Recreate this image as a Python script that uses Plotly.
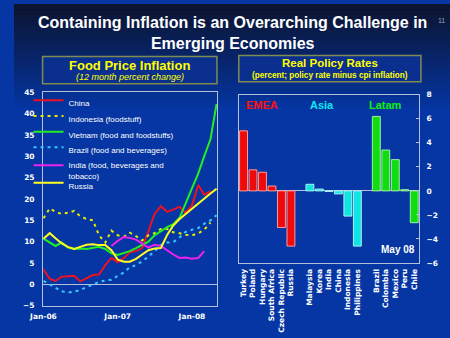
import pandas as pd
import plotly.graph_objects as go

# ---------------- data ----------------
months = pd.date_range("2006-01-01", periods=29, freq="MS")

china = [3.5, 1.3, 0.8, 1.8, 1.9, 2.0, 0.7, 1.4, 2.2, 2.3, 4.5, 6.2, 5.2, 6.2, 7.5,
         7.8, 8.5, 12.5, 16.5, 18.3, 17.0, 17.5, 18.2, 16.8, 18.5, 23.3, 21.0, 21.8, None]
indonesia = [15.5, 17.8, 17.0, 16.5, 16.8, 17.2, 16.0, 15.3, 15.0, 11.5, 9.8, 12.6, 11.5, 11.2, 12.1,
             11.3, 10.3, 11.5, 12.0, 13.0, 13.0, 12.2, 12.0, 11.6, 11.5, 12.0, 12.8, 14.5, None]
vietnam = [10.7, 9.9, 9.0, 9.8, 8.6, 8.3, 8.4, 8.3, 8.6, 8.8, 8.3, 7.3, 6.9, 7.3, 7.8,
           8.5, 9.3, 10.0, 11.5, 12.5, 13.4, 14.1, 15.6, 19.0, 22.5, 26.0, 30.0, 34.0, 42.3]
brazil = [0.8, 0.0, -0.8, -1.6, -1.9, -1.7, -1.3, -0.7, 0.0, 0.6, 0.9, 1.1, 2.0, 2.8, 4.0,
          4.5, 5.4, 6.5, 7.8, 9.2, 9.8, 9.9, 11.0, 12.3, 12.8, 13.2, 14.2, 15.0, 16.2]
india = [None] * 11 + [9.0, 10.2, 11.1, 10.9, 10.5, 9.5, 8.6, 9.3, 9.0, 8.0, 7.0, 6.2,
                      6.3, 6.0, 6.2, 7.8] + [None, None]
russia = [10.7, 12.0, 10.8, 9.6, 8.8, 8.3, 8.8, 9.3, 9.4, 9.2, 9.2, 8.0, 5.8, 5.3, 5.3,
          6.0, 7.0, 8.0, 8.4, 8.5, 11.6, 13.8, 15.3, 16.5, 17.7, 19.0, 20.2, 21.3, 22.4]

series_names = ["China", "Indonesia (foodstuff)", "Vietnam (food and foodstuffs)",
                "Brazil (food and beverages)", "India (food, beverages and<br>tobacco)", "Russia"]

emea_countries = ["Turkey", "Poland", "Hungary", "South Africa", "Czech Republic", "Russia"]
emea_rates = [5.0, 1.75, 1.55, 0.4, -3.05, -4.6]
asia_countries = ["Malaysia", "Korea", "India", "China", "Indonesia", "Philippines"]
asia_rates = [0.55, 0.15, -0.05, -0.25, -2.1, -4.6]
latam_countries = ["Brazil", "Colombia", "Mexico", "Peru", "Chile"]
latam_rates = [6.2, 3.4, 2.6, 0.1, -2.65]
gap_labels = [" ", "  "]

# ---------------- helpers ----------------
W, H = 450, 338
def px(x):
    return x / W
def py(y):
    return 1 - y / H

BG = "#0536a3"
YEL = "#ffff00"
FRAME = "#b4c0dc"

fig = go.Figure()

styles = [
    dict(color="#ee1122", width=2),
    dict(color="#e8e800", width=2, dash="3px,4px"),
    dict(color="#22ee22", width=2),
    dict(color="#33ccff", width=2, dash="3px,4px"),
    dict(color="#ee22ee", width=2),
    dict(color="#ffff22", width=2),
]
data = [china, indonesia, vietnam, brazil, india, russia]
legends = ["legend", "legend2", "legend3", "legend4", "legend5", "legend6"]
for name, vals, st, lg in zip(series_names, data, styles, legends):
    fig.add_trace(go.Scatter(x=months, y=vals, mode="lines", name=name, line=st,
                             connectgaps=False, xaxis="x", yaxis="y", legend=lg))

# bars
cats = emea_countries + [gap_labels[0]] + asia_countries + [gap_labels[1]] + latam_countries
fig.add_trace(go.Bar(x=emea_countries, y=emea_rates, marker=dict(color="#ee0a0a", line=dict(color="#ff9a9a", width=1)),
                     xaxis="x2", yaxis="y2", showlegend=False))
fig.add_trace(go.Bar(x=asia_countries, y=asia_rates, marker=dict(color="#10e4e4", line=dict(color="#a8f4f4", width=1)),
                     xaxis="x2", yaxis="y2", showlegend=False))
fig.add_trace(go.Bar(x=latam_countries, y=latam_rates, marker=dict(color="#10dd10", line=dict(color="#a8f0a8", width=1)),
                     xaxis="x2", yaxis="y2", showlegend=False))

# ---------------- background ----------------
shapes = []
top = (12, 20, 48)
bot = (5, 54, 163)
nb = 30
for i in range(nb):
    t = i / (nb - 1)
    c = tuple(int(top[k] + (bot[k] - top[k]) * t) for k in range(3))
    y0 = i * 110 / nb
    y1 = (i + 1) * 110 / nb + 0.5
    shapes.append(dict(type="rect", xref="paper", yref="paper", x0=0, x1=1, y0=py(y1), y1=py(y0),
                       fillcolor="rgb(%d,%d,%d)" % c, line=dict(width=0), layer="below"))
# title boxes
shapes.append(dict(type="rect", xref="paper", yref="paper", x0=px(29.5), x1=px(209.5), y0=py(82), y1=py(54),
                   fillcolor="#0a2f8e", line=dict(color="#7e8c52", width=1.5), layer="below"))
shapes.append(dict(type="rect", xref="paper", yref="paper", x0=px(232), x1=px(420), y0=py(80), y1=py(53),
                   fillcolor="#0a2f8e", line=dict(color="#7e8c52", width=1.5), layer="below"))

def note(text, x, y, size, color, family="Liberation Sans"):
    return dict(text=text, x=px(x), y=py(y), xref="paper", yref="paper", showarrow=False,
                xanchor="center", yanchor="middle", align="center",
                font=dict(family=family, size=size, color=color))

ann = [
    note("<b>Containing Inflation is an Overarching Challenge in<br>Emerging Economies</b>", 225, 30, 16, "white"),
    note("11", 441, 17, 7, "#9aa4c0"),
    note("<b>Food Price Inflation</b>", 119.5, 63, 13, YEL),
    note("<i>(12 month percent change)</i>", 119.5, 75.5, 9, YEL),
    note("<b>Real Policy Rates</b>", 326, 61, 11.5, YEL),
    note("<b>(percent; policy rate minus cpi inflation)</b>", 326, 73.5, 8.2, YEL),
    note("<b>EMEA</b>", 256, 104, 11, "#ff1010"),
    note("<b>Asia</b>", 318, 104, 11, "#10e8f0"),
    note("<b>Latam</b>", 383, 104, 11, "#10f010"),
    note("<b>May 08</b>", 396, 252, 10, "white"),
]

tickfont = dict(family="DejaVu Sans", size=7.5, color="white", weight="bold")

# legends, one per entry so their spacing can match
leg_y = [101.7, 118, 134, 150, 171, 186.5]
layout_legends = {}
for lg, yy in zip(legends, leg_y):
    layout_legends[lg] = dict(x=px(15), y=py(yy), xanchor="left", yanchor="middle",
                              bgcolor="rgba(0,0,0,0)", borderwidth=0, itemwidth=30, valign="top",
                              font=dict(family="Liberation Sans", size=8, color="white"))

fig.update_layout(
    width=W, height=H, margin=dict(l=0, r=0, t=0, b=0),
    paper_bgcolor=BG, plot_bgcolor="rgba(0,0,0,0)",
    shapes=shapes, annotations=ann, showlegend=True,
    bargap=0.17,
    xaxis=dict(domain=[px(30), px(209.5)], anchor="y", type="date",
               range=["2005-12-30", "2008-05-03"], tick0="2006-01-01", dtick="M12",
               tickformat="%b-%y", tickfont=tickfont, showgrid=False, zeroline=False,
               showline=True, linecolor=FRAME, linewidth=1, mirror=True, ticks="",
               ticklabelstandoff=3),
    yaxis=dict(domain=[py(310), py(90.7)], anchor="x", range=[-5, 45], dtick=5,
               tickfont=tickfont, showgrid=False, zeroline=True, zerolinecolor=FRAME, zerolinewidth=1,
               showline=True, linecolor=FRAME, linewidth=1, mirror=True, ticks="",
               ticklabelstandoff=6),
    xaxis2=dict(domain=[px(232), px(418)], anchor="y2", type="category",
                categoryorder="array", categoryarray=cats, range=[-0.5, len(cats) - 0.5],
                tickmode="array", tickvals=cats, ticktext=cats,
                tickangle=-90, tickfont=tickfont, showgrid=False, zeroline=False,
                showline=True, linecolor=FRAME, linewidth=1, mirror=True, ticks="",
                ticklabelstandoff=2),
    yaxis2=dict(domain=[py(266), py(93.3)], anchor="x2", side="right", range=[-6, 8], dtick=2,
                tickfont=tickfont, showgrid=False, zeroline=True, zerolinecolor=FRAME, zerolinewidth=1,
                showline=True, linecolor=FRAME, linewidth=1, mirror=True, ticks="inside", ticklen=3,
                tickcolor=FRAME, ticklabelstandoff=5),
    **layout_legends,
)

fig.write_html("out.html")
